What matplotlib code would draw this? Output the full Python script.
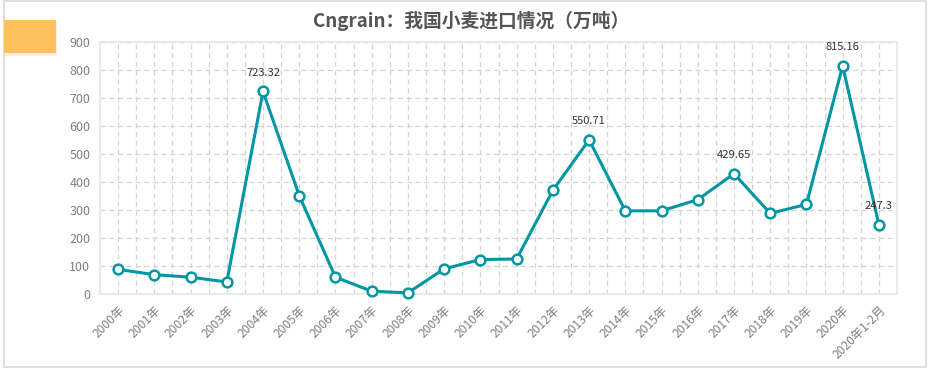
import matplotlib
matplotlib.use("Agg")
import matplotlib.pyplot as plt
from matplotlib.patches import Rectangle
from matplotlib.ticker import MultipleLocator

plt.rcParams['font.family'] = ['Noto Sans CJK SC', 'DejaVu Sans']

categories = ["2000年", "2001年", "2002年", "2003年", "2004年", "2005年", "2006年", "2007年",
              "2008年", "2009年", "2010年", "2011年", "2012年", "2013年", "2014年", "2015年",
              "2016年", "2017年", "2018年", "2019年", "2020年", "2020年1-2月"]
values = [88, 69, 60, 43, 723.32, 351, 60, 10, 4, 90, 123, 125, 370, 550.71, 297, 297,
          337, 429.65, 288, 320, 815.16, 247.3]
labeled = {4: "723.32", 13: "550.71", 17: "429.65", 20: "815.16", 21: "247.3"}
title = "Cngrain：我国小麦进口情况（万吨）"

W, H = 930, 376
fig = plt.figure(figsize=(W / 100, H / 100), dpi=100)

# outer frame
fig.patches.append(Rectangle((4 / W, 9 / H), 922 / W, 366 / H, transform=fig.transFigure,
                             fill=False, edgecolor="#d9d9d9", linewidth=1.2))
# shadow + orange tab
fig.patches.append(Rectangle((5 / W, (H - 56) / H), 52 / W, 34 / H, transform=fig.transFigure,
                             facecolor="#fbe3c0", edgecolor="none", alpha=0.6))
fig.patches.append(Rectangle((4 / W, (H - 53) / H), 52 / W, 33 / H, transform=fig.transFigure,
                             facecolor="#FFC05E", edgecolor="none"))

ax = fig.add_axes([100 / W, (H - 294) / H, 797 / W, 252 / H])
x = list(range(len(categories)))
ax.plot(x, values, color="#0096A3", linewidth=2.2, marker="o", markersize=7,
        markerfacecolor="white", markeredgecolor="#0096A3", markeredgewidth=1.8, zorder=3,
        clip_on=False)
for i, t in labeled.items():
    ax.annotate(t, (x[i], values[i]), xytext=(0, 10), textcoords="offset points",
                ha="center", va="bottom", fontsize=8, color="#333333")

ax.set_xlim(-0.5, len(categories) - 0.5)
ax.set_ylim(0, 900)
ax.yaxis.set_major_locator(MultipleLocator(100))
ax.set_xticks(x)
ax.set_xticks([i + 0.5 for i in x[:-1]], minor=True)
ax.set_xticklabels(categories, rotation=45, ha="right", rotation_mode="anchor",
                   fontsize=8.7, color="#808080")
ax.tick_params(axis="x", which="both", length=0, pad=7)
ax.tick_params(axis="y", length=0, pad=7, labelsize=9, labelcolor="#808080")
ax.grid(True, which="both", axis="x", color="#d4d4d4", linestyle=(0, (4, 3)), linewidth=0.9)
ax.grid(True, which="major", axis="y", color="#d4d4d4", linestyle=(0, (4, 3)), linewidth=0.9)
ax.set_axisbelow(True)
for s in ax.spines.values():
    s.set_color("#e6e6e6")
    s.set_linewidth(1.2)

fig.text(471 / W, 1 - 21 / H, title, ha="center", va="center", fontsize=13.5,
         fontweight="bold", color="#555555")

fig.savefig("out.png", dpi=100)
